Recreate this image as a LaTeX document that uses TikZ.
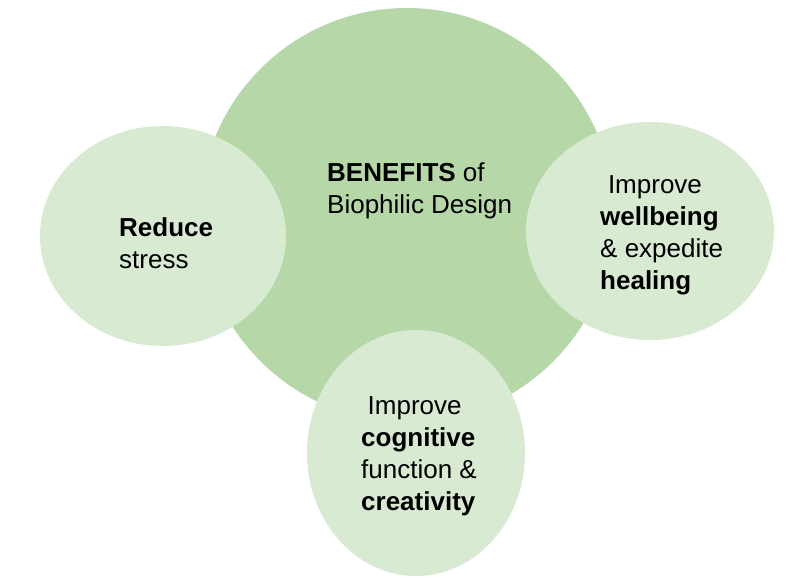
\documentclass[tikz,border=0pt]{standalone}
\usepackage{fontspec}
\setmainfont{Liberation Sans}
\usetikzlibrary{shapes.geometric}
\definecolor{sagegreen}{HTML}{B6D7A8}
\definecolor{palesage}{HTML}{D9EAD3}

\begin{document}
\begin{tikzpicture}[x=1pt,y=-1pt,
    bubble/.style={ellipse, fill=palesage, inner sep=0pt},
    blurb/.style={align=left, inner sep=0pt, anchor=north west, font=\fontsize{26}{32}\selectfont}]
        \useasboundingbox (0,0) rectangle (791,579);
        % big circle and the three benefits round it
        \node[circle, fill=sagegreen, minimum size=414pt, inner sep=0pt] (benefits) at (407,215) {};
        \node[bubble, minimum width=246pt, minimum height=220pt] (stress) at (163,236) {};
        \node[bubble, minimum width=248pt, minimum height=218pt] (healing) at (650,231) {};
        \node[bubble, minimum width=218pt, minimum height=246pt] (creativity) at (416,453) {};
        % texts
        \node[blurb] (benefitstext) at (327,162) {\textbf{BENEFITS} of\\Biophilic Design};
        \node[blurb] (stresstext) at (119,217) {\textbf{Reduce}\\stress};
        \node[blurb] (healingtext) at (600,175) {\hspace*{0.3em}Improve\\\textbf{wellbeing}\\\& expedite\\\textbf{healing}};
        \node[blurb] (creativitytext) at (361,396) {\hspace*{0.25em}Improve\\\textbf{cognitive}\\function \&\\\textbf{creativity}};
\end{tikzpicture}
\end{document}
